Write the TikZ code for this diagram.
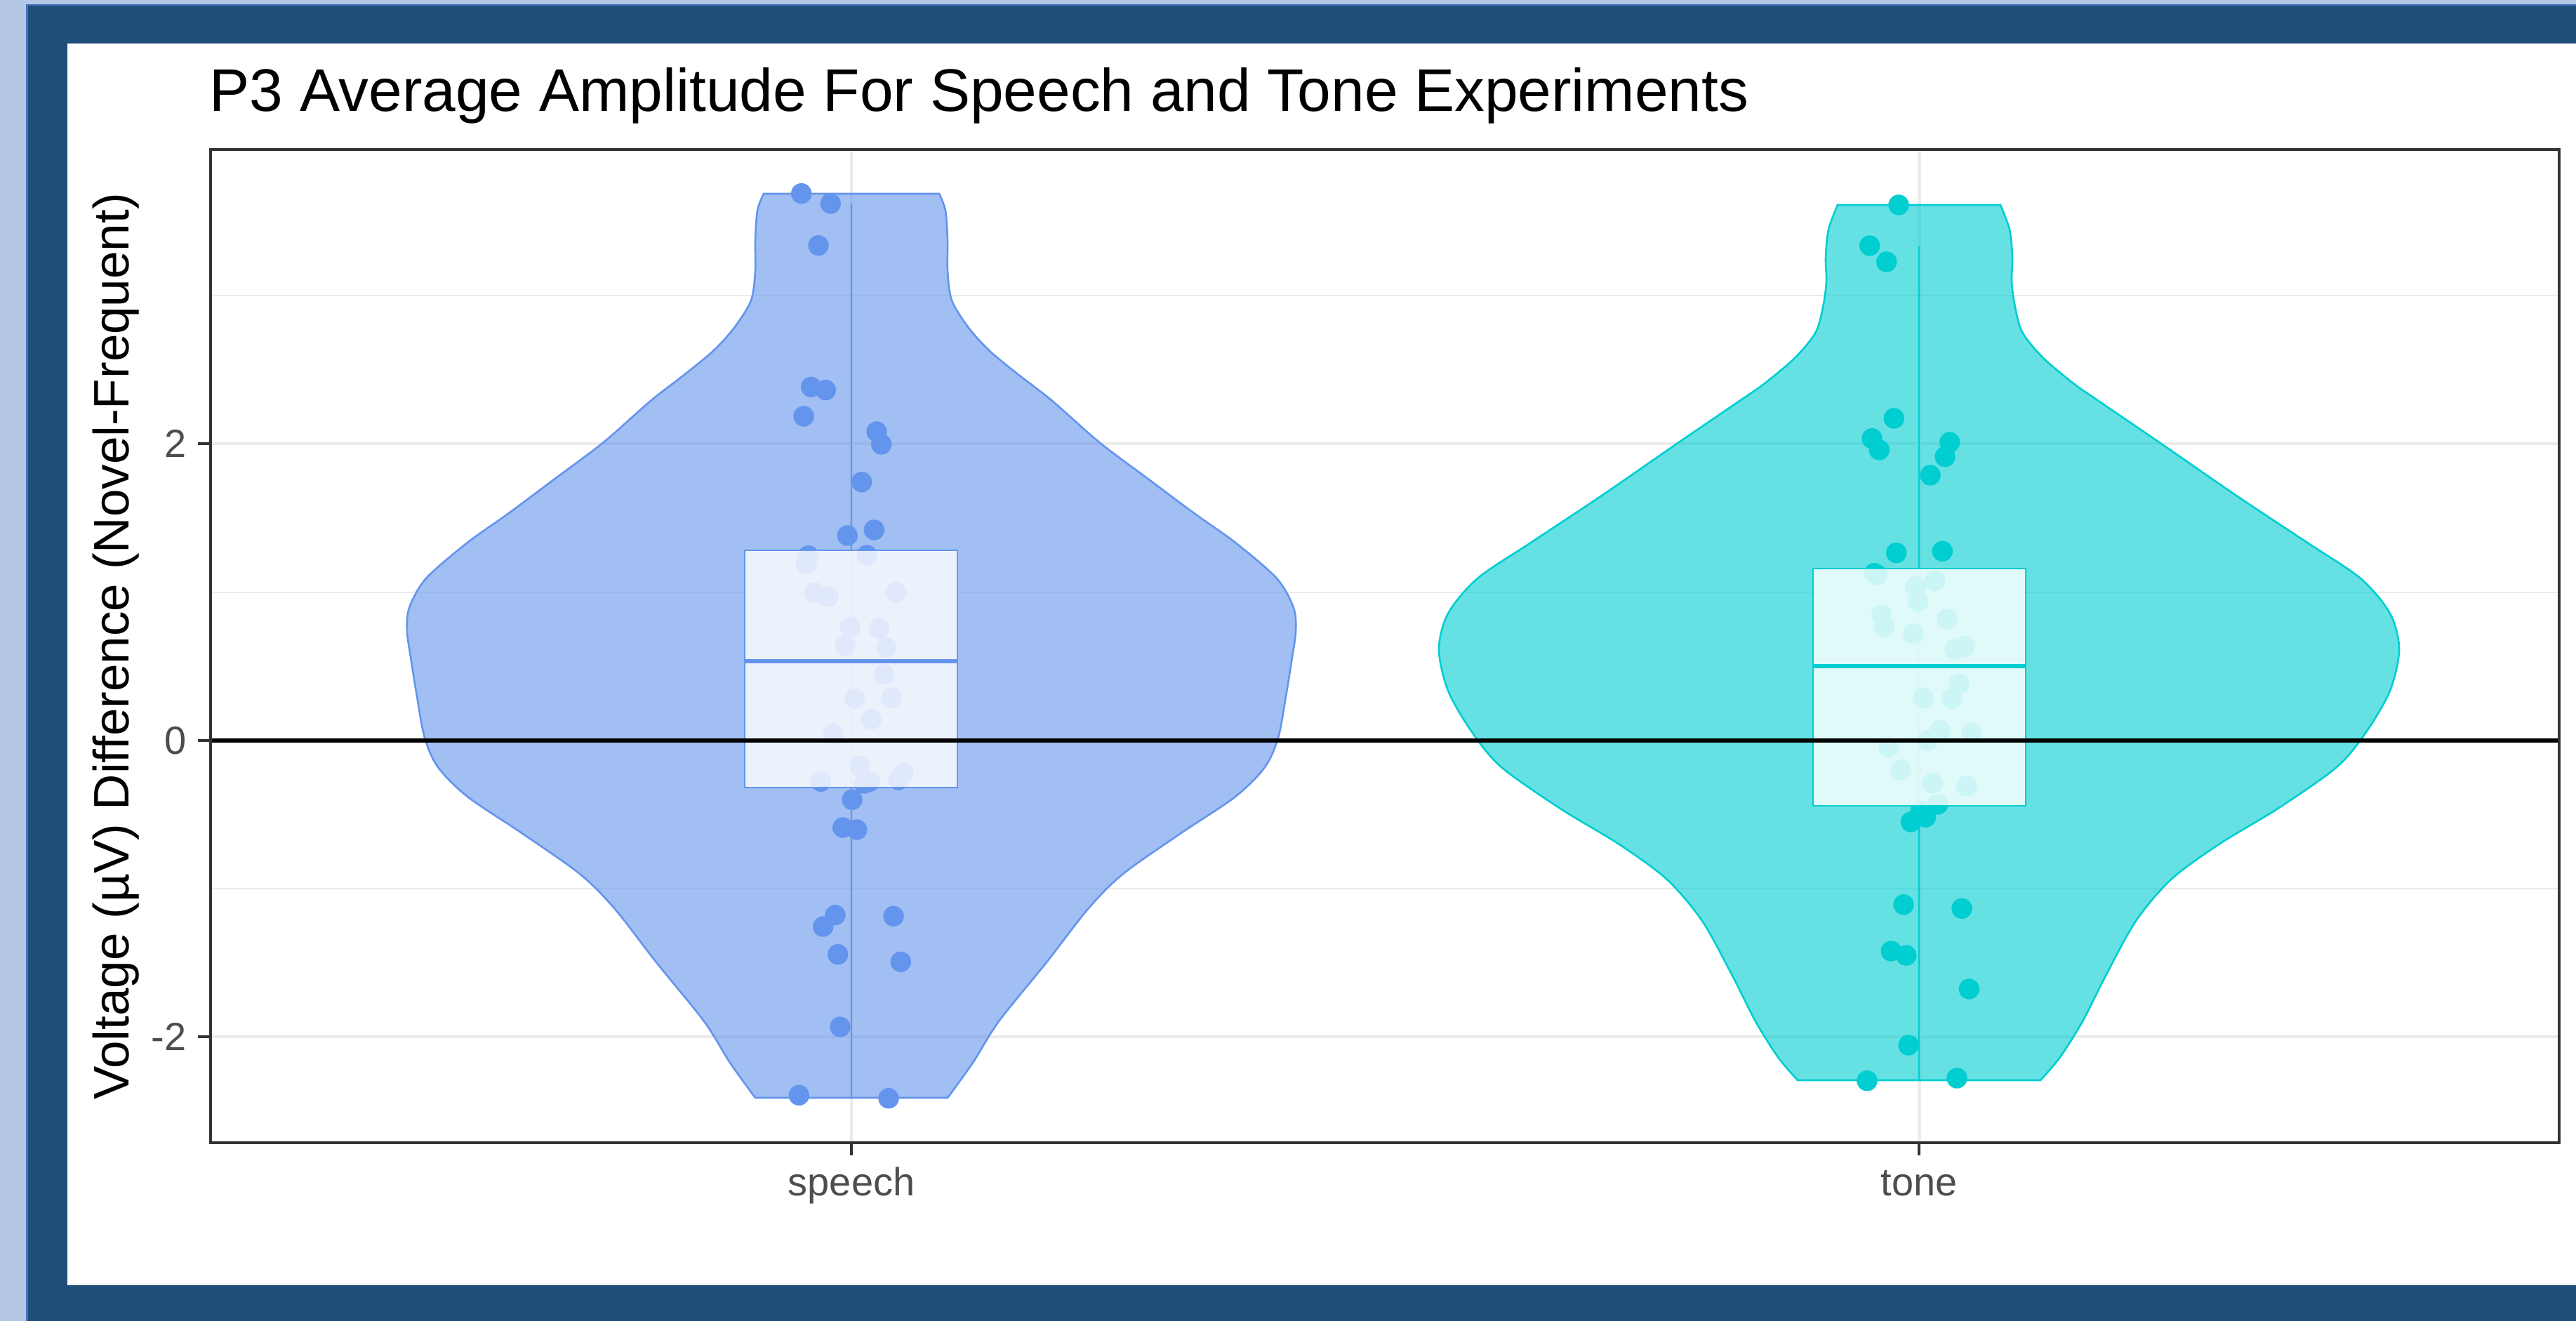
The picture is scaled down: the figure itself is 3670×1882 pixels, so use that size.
\documentclass[tikz,border=0pt]{standalone}
\usepackage{fontspec}
\setmainfont{Liberation Sans}
\definecolor{cfblue}{HTML}{6495ED}
\definecolor{dturq}{HTML}{00CED1}
\definecolor{frameblue}{HTML}{1F4E79}
\definecolor{lightblue}{HTML}{B4C7E7}
\definecolor{midblue}{HTML}{4472C4}
\definecolor{gridgrey}{HTML}{EBEBEB}
\definecolor{axisgrey}{HTML}{333333}
\definecolor{ticktext}{HTML}{4D4D4D}
\begin{document}
\begin{tikzpicture}[x=0.01cm,y=-0.01cm,
  majorgrid/.style={draw=gridgrey,line width=1.4pt},
  minorgrid/.style={draw=gridgrey,line width=0.75pt},
  violinS/.style={fill=cfblue,fill opacity=0.6,draw=cfblue,draw opacity=1,line width=0.75pt},
  violinT/.style={fill=dturq,fill opacity=0.6,draw=dturq,draw opacity=1,line width=0.75pt},
  whisk/.style={line width=0.75pt},
  boxst/.style={fill=white,fill opacity=0.8,draw opacity=1,line width=0.75pt},
  medst/.style={line width=1.75pt},
  ptS/.style={fill=cfblue},
  ptT/.style={fill=dturq},
  tickst/.style={draw=axisgrey,line width=0.95pt},
  titlest/.style={font=\fontsize{24.35}{29}\selectfont,anchor=base west,inner sep=0pt},
  axtitle/.style={font=\fontsize{20.2}{24}\selectfont,inner sep=0pt},
  ticklab/.style={font=\fontsize{15.9}{19}\selectfont,text=ticktext,inner sep=0pt}
]
\useasboundingbox (0,0) rectangle (3670,1882);
% frame
\fill[lightblue] (0,0) rectangle (3670,1882);
\fill[midblue] (37,6) rectangle (3670,1882);
\fill[frameblue] (39.5,8.5) rectangle (3670,1882);
\fill[white] (96,62) rectangle (3670,1831);

% grid
\foreach \v in {421,844,1266}
  \draw[minorgrid] (300,\v) -- (3646,\v);
\foreach \v in {632,1055,1477}
  \draw[majorgrid] (300,\v) -- (3646,\v);
\foreach \u in {1213,2734}
  \draw[majorgrid] (\u,213) -- (\u,1628);

% speech violin
\path[violinS] (1088,276) -- (1338,276)
  -- plot[smooth,tension=0.5] coordinates {(1338,276) (1347,300) (1350,344) (1350,386) (1356,428) (1380,467) (1410,500) (1450,533) (1499,571) (1566,630) (1634,681) (1701,731) (1760,773) (1819,824) (1843,866) (1846,900) (1840,942) (1832,992) (1821,1051) (1802,1093) (1760,1135) (1684,1186) (1600,1245) (1550,1295) (1491,1371) (1423,1455) (1386,1514) (1350,1564)}
  -- (1076,1564)
  -- plot[smooth,tension=0.5] coordinates {(1076,1564) (1040,1514) (1003,1455) (935,1371) (876,1295) (826,1245) (742,1186) (666,1135) (624,1093) (605,1051) (594,992) (586,942) (580,900) (583,866) (607,824) (666,773) (725,731) (792,681) (860,630) (927,571) (976,533) (1016,500) (1046,467) (1070,428) (1076,386) (1076,344) (1079,300) (1088,276)}
  -- cycle;
% tone violin
\path[violinT] (2618,292) -- (2850,292)
  -- plot[smooth,tension=0.5] coordinates {(2850,292) (2863,327) (2867,367) (2866,400) (2870,433) (2881,473) (2911,510) (2955,547) (2988,570) (3076,630) (3186,706) (3287,773) (3363,824) (3405,874) (3418,925) (3405,984) (3371,1043) (3329,1093) (3245,1152) (3161,1203) (3093,1253) (3043,1312) (3001,1388) (2967,1455) (2935,1506) (2907,1539)}
  -- (2561,1539)
  -- plot[smooth,tension=0.5] coordinates {(2561,1539) (2533,1506) (2501,1455) (2467,1388) (2425,1312) (2375,1253) (2307,1203) (2223,1152) (2139,1093) (2097,1043) (2063,984) (2050,925) (2063,874) (2105,824) (2181,773) (2282,706) (2392,630) (2480,570) (2513,547) (2557,510) (2587,473) (2598,433) (2602,400) (2601,367) (2605,327) (2618,292)}
  -- cycle;

% whiskers
\draw[whisk,cfblue] (1213,290) -- (1213,784);
\draw[whisk,cfblue] (1213,1122) -- (1213,1564);
\draw[whisk,dturq] (2734,351) -- (2734,810);
\draw[whisk,dturq] (2734,1148) -- (2734,1539);

% speech points
\foreach \px/\py in {1141.7/275.7,1183.3/290,1166/349.7,1155.7/551.3,1176.3/555.7,1145/593,1249/615,1255.7/633,1227.7/686.7,1245.3/755,1207.3/763,1151.7/791.7,1148.7/804,1235/791,1160/844,1180/850,1276.7/843.7,1211/893,1252.3/895.3,1204/920,1262.7/922.7,1259.3/961,1217.7/995.3,1269.7/993.7,1241.7/1024.7,1186.7/1045,1224.7/1091.7,1169.3/1113.3,1231/1116,1239.3/1113.3,1280/1111,1287.3/1102.3,1214/1139.3,1200.7/1179,1220.7/1182,1190/1303.7,1172.7/1320,1273/1305.3,1193.7/1359.7,1283.3/1370.3,1197/1463,1138.3/1560.3,1266/1564.7}
  \fill[ptS] (\px,\py) circle[radius=0.147cm];
% tone points
\foreach \px/\py in {2705/292,2663.7/350,2687.7/373,2698.3/596,2667/624.7,2677.3/641,2777.7/630,2771/650.7,2750/677,2701.7/787.7,2767.3/785.3,2670.3/816.7,2674/818.7,2729/835.7,2756.7/827.3,2732.7/857,2680.7/875.7,2684.3/893.3,2774/881.7,2725.7/902.7,2785/925.3,2799/921,2791.3/974,2739.7/994.3,2781/995.3,2764/1040.7,2746.3/1055,2809/1043.7,2691/1064.3,2708.3/1097,2753.3/1115.7,2801.7/1120,2760.7/1146,2736/1156.7,2743.3/1164.3,2722.3/1171,2712/1288.7,2795/1294.3,2694.3/1355,2715.7/1361,2805.3/1409,2719/1489,2660/1539.7,2788/1536}
  \fill[ptT] (\px,\py) circle[radius=0.147cm];

% boxes
\path[boxst,draw=cfblue] (1061,784) rectangle (1364,1122);
\draw[medst,cfblue] (1061,942) -- (1364,942);
\path[boxst,draw=dturq] (2583,810) rectangle (2886,1148);
\draw[medst,dturq] (2583,949) -- (2886,949);

% zero line
\draw[black,line width=1.5pt] (300,1055) -- (3646,1055);

% panel border
\draw[axisgrey,line width=0.95pt] (300,213) rectangle (3646,1628);

% ticks
\foreach \v in {632,1055,1477}
  \draw[tickst] (282,\v) -- (300,\v);
\foreach \u in {1213,2734}
  \draw[tickst] (\u,1628) -- (\u,1646);

% tick labels
\node[ticklab,anchor=east] (yt2) at (266,632) {2};
\node[ticklab,anchor=east] (yt0) at (266,1055) {0};
\node[ticklab,anchor=east] (ytm2) at (266,1477) {-2};
\node[ticklab,anchor=base] (xs) at (1213,1703) {speech};
\node[ticklab,anchor=base] (xt) at (2734,1703) {tone};

% titles
\node[titlest] (title) at (298,159) {P3 Average Amplitude For Speech and Tone Experiments};
\node[axtitle,rotate=90,anchor=base] (ylab) at (183,920.5) {Voltage (µV) Difference (Novel-Frequent)};
\end{tikzpicture}
\end{document}
